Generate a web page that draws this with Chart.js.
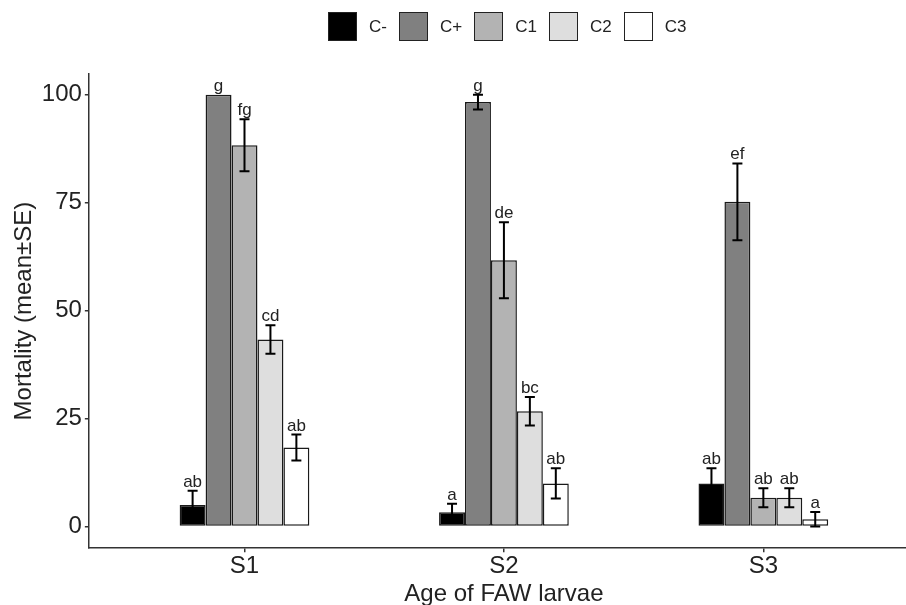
<!DOCTYPE html>
<html>
<head>
<meta charset="utf-8">
<script src="https://cdn.jsdelivr.net/npm/chart.js@4.4.1/dist/chart.umd.min.js"></script>
<style>
  html, body { margin: 0; padding: 0; background: #fff; overflow: hidden; }
  #wrap { position: relative; width: 906px; height: 605px; overflow: hidden; }
  #legend { position: absolute; top: 12px; left: 328px; display: flex; align-items: center;
            font: 17px 'Liberation Sans', Arial, sans-serif; color: #222; }
  #legend .item { display: flex; align-items: center; margin-right: 12px; }
  #legend .key { width: 27px; height: 27px; border: 1.5px solid #222; margin-right: 12px; }
</style>
</head>
<body>
<div id="wrap">
  <div id="legend"></div>
  <canvas id="chart" width="919" height="620"></canvas>
</div>
<script>
// Mortalidade por estágio larval (média ± EP)
const categories = ['S1', 'S2', 'S3'];
const seriesNames = ['C-', 'C+', 'C1', 'C2', 'C3'];
const seriesColors = ['#000000', '#808080', '#b3b3b3', '#dedede', '#ffffff'];

const cMinus = [5, 3.3, 10];
const cPlus = [100, 98.3, 75.2];
const c1 = [88.3, 61.7, 6.7];
const c2 = [43.3, 26.7, 6.7];
const c3 = [18.3, 10, 1.7];

const seMinus = [3.3, 2, 3.5];
const sePlus = [0, 1.7, 8.9];
const se1 = [6, 8.8, 2.2];
const se2 = [3.3, 3.3, 2.2];
const se3 = [3, 3.5, 1.7];

const lettersMinus = ['ab', 'a', 'ab'];
const lettersPlus = ['g', 'g', 'ef'];
const letters1 = ['fg', 'de', 'ab'];
const letters2 = ['cd', 'bc', 'ab'];
const letters3 = ['ab', 'ab', 'a'];

const yTicks = [0, 25, 50, 75, 100];

const seriesValues = [cMinus, cPlus, c1, c2, c3];
const seriesErrors = [seMinus, sePlus, se1, se2, se3];
const seriesLetters = [lettersMinus, lettersPlus, letters1, letters2, letters3];

const font = 'Liberation Sans, Arial, sans-serif';

// legenda em HTML, centrada sobre o painel
const legend = document.getElementById('legend');
seriesNames.forEach((name, k) => {
    const item = document.createElement('div');
    item.className = 'item';
    const key = document.createElement('div');
    key.className = 'key';
    key.style.background = seriesColors[k];
    const label = document.createElement('span');
    label.textContent = name;
    item.appendChild(key);
    item.appendChild(label);
    legend.appendChild(item);
});

// barras de erro + letras de significância
const errorBars = {
    id: 'errorBars',
    afterDatasetsDraw(chart) {
        const ctx = chart.ctx;
        const yScale = chart.scales.y;
        chart.data.datasets.forEach((ds, k) => {
            const meta = chart.getDatasetMeta(k);
            meta.data.forEach((bar, i) => {
                const v = seriesValues[k][i];
                const e = seriesErrors[k][i];
                const top = yScale.getPixelForValue(v + e);
                const bot = yScale.getPixelForValue(v - e);
                ctx.save();
                ctx.strokeStyle = '#000';
                ctx.lineWidth = 2;
                if (e > 0) {
                    ctx.beginPath();
                    ctx.moveTo(bar.x, top);
                    ctx.lineTo(bar.x, bot);
                    ctx.moveTo(bar.x - 5, top);
                    ctx.lineTo(bar.x + 5, top);
                    ctx.moveTo(bar.x - 5, bot);
                    ctx.lineTo(bar.x + 5, bot);
                    ctx.stroke();
                }
                ctx.fillStyle = '#222';
                ctx.font = '17px ' + font;
                ctx.textAlign = 'center';
                ctx.textBaseline = 'alphabetic';
                ctx.fillText(seriesLetters[k][i], bar.x, top - 4);
                ctx.restore();
            });
        });
    }
};

new Chart(document.getElementById('chart'), {
    type: 'bar',
    data: {
        datasets: seriesNames.map((name, k) => ({
            label: name,
            data: seriesValues[k].map((v, i) => ({ x: i + 1, y: v })),
            backgroundColor: seriesColors[k],
            borderColor: '#1a1a1a',
            borderWidth: 1.5,
            borderSkipped: false,
            barPercentage: 1,
            categoryPercentage: 0.5
        }))
    },
    options: {
        responsive: false,
        animation: false,
        devicePixelRatio: 1,
        layout: { padding: { top: 74, left: 5, right: 0, bottom: 7 } },
        plugins: {
            legend: { display: false },
            tooltip: { enabled: false }
        },
        scales: {
            x: {
                type: 'linear',
                min: 0.4,
                max: 3.6,
                offset: false,
                afterBuildTicks: s => { s.ticks = categories.map((c, i) => ({ value: i + 1 })); },
                ticks: {
                    callback: v => categories[v - 1],
                    font: { family: font, size: 24, lineHeight: 1 },
                    color: '#222',
                    padding: 2,
                    maxRotation: 0,
                    autoSkip: false
                },
                grid: { offset: false, drawOnChartArea: false, drawTicks: true, tickLength: 4, color: '#333', lineWidth: 1.5 },
                border: { color: '#333', width: 1.5 },
                title: {
                    display: true,
                    text: 'Age of FAW larvae',
                    font: { family: font, size: 24 },
                    color: '#222',
                    padding: { top: 0, bottom: 4 }
                }
            },
            y: {
                min: -5,
                max: 104.8,
                afterBuildTicks: s => { s.ticks = yTicks.map(v => ({ value: v })); },
                ticks: {
                    font: { family: font, size: 24 },
                    color: '#222',
                    padding: 3
                },
                grid: { drawOnChartArea: false, drawTicks: true, tickLength: 4, color: '#333', lineWidth: 1.5 },
                border: { color: '#333', width: 1.5 },
                title: {
                    display: true,
                    text: 'Mortality (mean±SE)',
                    font: { family: font, size: 24 },
                    color: '#222',
                    padding: { top: 5, bottom: 0 }
                }
            }
        }
    },
    plugins: [errorBars]
});
</script>
</body>
</html>
